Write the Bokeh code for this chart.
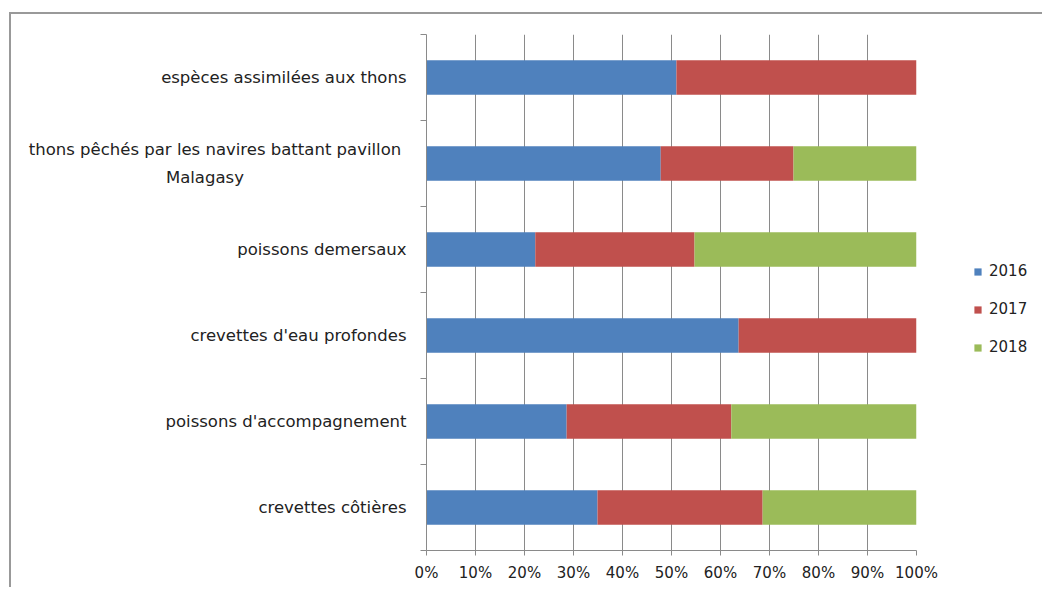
from bokeh.plotting import figure
from bokeh.models import Range1d, FixedTicker, ColumnDataSource, Legend, LegendItem
from bokeh.embed import file_html
from bokeh.resources import INLINE

categories = [
    "espèces assimilées aux thons",
    "thons pêchés par les navires battant  pavillon\nMalagasy",
    "poissons demersaux",
    "crevettes d'eau profondes",
    "poissons d'accompagnement",
    "crevettes côtières",
]
years = ["2016", "2017", "2018"]
v2016 = [51.0, 47.8, 22.2, 63.7, 28.6, 34.9]
v2017 = [49.0, 27.1, 32.5, 36.3, 33.6, 33.7]
v2018 = [0.0, 25.1, 45.3, 0.0, 37.8, 31.4]
x_ticks = [0, 10, 20, 30, 40, 50, 60, 70, 80, 90, 100]
colors = ["#4F81BD", "#C0504D", "#9BBB59"]

FONT = "DejaVu Sans"
n = len(categories)
# bottom-up positions: first category at top
ypos = [n - 1 - i + 0.5 for i in range(n)]


def centered(label):
    # visually centre the continuation line under the first line (axis labels are right-aligned)
    lines = label.split("\n")
    if len(lines) == 1:
        return label
    first, rest = lines[0], lines[1:]
    pad = max(0, int((len(first) - len(rest[0])) * 0.83))
    return "\n".join([first] + [r + "\u00a0" * pad for r in rest])


source = ColumnDataSource(dict(
    y=ypos,
    y2016=[v / 100 for v in v2016],
    y2017=[v / 100 for v in v2017],
    y2018=[v / 100 for v in v2018],
))

p = figure(frame_width=490, frame_height=516, output_backend="svg", toolbar_location=None,
           x_range=Range1d(0, 1), y_range=Range1d(0, n),
           min_border_left=415, min_border_right=110, min_border_top=20, min_border_bottom=37)
p.outline_line_color = None
p.background_fill_color = "white"
p.border_fill_color = "white"
p.styles = {"border-left": "2px solid #999999", "border-top": "2px solid #999999",
            "margin-left": "9px", "margin-top": "12px"}

renderers = p.hbar_stack(["y2016", "y2017", "y2018"], y="y", height=0.4, color=colors,
                         line_color=None, source=source)

# x axis
p.xaxis.ticker = FixedTicker(ticks=[t / 100 for t in x_ticks])
p.xaxis.major_label_overrides = {t / 100: f"{t}%" for t in x_ticks}
p.xaxis.major_tick_out = 5
p.xaxis.major_tick_in = 0
p.xaxis.minor_tick_out = 0
p.xaxis.axis_line_color = "#8a8a8a"
p.xaxis.major_tick_line_color = "#8a8a8a"
p.xaxis.major_label_text_font = FONT
p.xaxis.major_label_text_font_size = "15px"
p.xaxis.major_label_text_color = "#222222"
p.xaxis.major_label_standoff = 8

# y axis
p.yaxis.ticker = FixedTicker(ticks=ypos, minor_ticks=list(range(n + 1)))
p.yaxis.major_label_overrides = {y: centered(c) for y, c in zip(ypos, categories)}
p.yaxis.major_tick_out = 0
p.yaxis.major_tick_in = 0
p.yaxis.minor_tick_out = 6
p.yaxis.minor_tick_in = 0
p.yaxis.axis_line_color = "#8a8a8a"
p.yaxis.minor_tick_line_color = "#8a8a8a"
p.yaxis.major_label_text_font = FONT
p.yaxis.major_label_text_font_size = "16.5px"
p.yaxis.major_label_text_color = "#222222"
p.yaxis.major_label_text_line_height = 1.45
p.yaxis.major_label_standoff = 14

p.xgrid.ticker = FixedTicker(ticks=[t / 100 for t in x_ticks])
p.xgrid.grid_line_color = "#8a8a8a"
p.ygrid.grid_line_color = None

legend = Legend(items=[LegendItem(label=yr, renderers=[r]) for yr, r in zip(years, renderers)],
                location=(57, 194), border_line_color=None, background_fill_alpha=0,
                glyph_width=9, glyph_height=9, label_text_font=FONT,
                label_text_font_size="15px", label_text_color="#222222",
                spacing=20, label_standoff=7, padding=0, margin=0)
p.add_layout(legend, "right")

open("out.html", "w").write(file_html(p, INLINE))
